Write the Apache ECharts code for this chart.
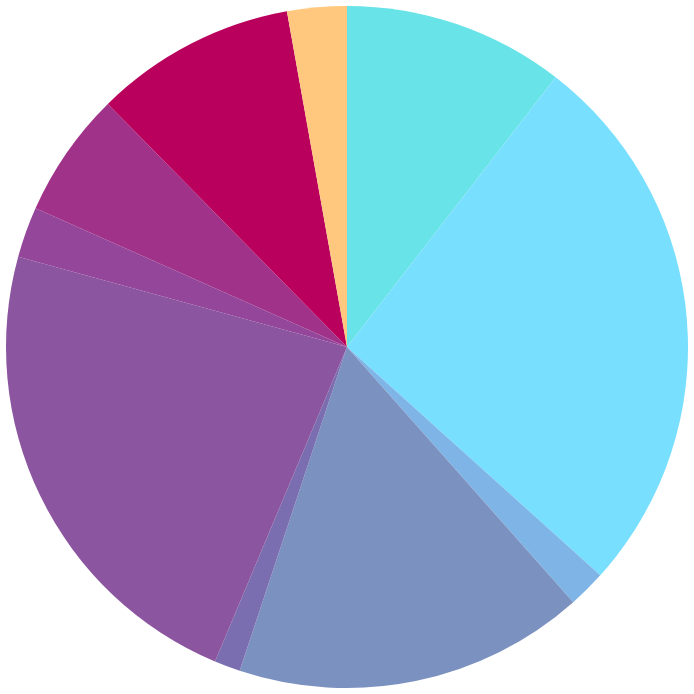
<!DOCTYPE html>
<html>
<head>
<meta charset="utf-8">
<script src="https://cdn.jsdelivr.net/npm/echarts@6/dist/echarts.min.js"></script>
<style>html,body{margin:0;padding:0;background:#fff}#c{width:694px;height:694px}</style>
</head>
<body>
<div id="c"></div>
<script>
const categories = ['A','B','C','D','E','F','G','H','I','J'];
const values = [10.48, 26.19, 1.78, 16.64, 1.23, 22.94, 2.40, 5.96, 9.55, 2.82];
const colors = ['#68E3E8','#78DFFF','#7FB5E6','#7B91C0','#7B6EB0','#8B559F','#93469A','#A03389','#BA005D','#FFC87E'];

const chart = echarts.init(document.getElementById('c'));
chart.setOption({
  animation: false,
  series: [{
    type: 'pie',
    center: [347, 347],
    radius: [0, 341],
    startAngle: 90,
    clockwise: true,
    label: { show: false },
    labelLine: { show: false },
    itemStyle: { borderWidth: 0 },
    emphasis: { disabled: true },
    data: categories.map((n, i) => ({ name: n, value: values[i], itemStyle: { color: colors[i] } }))
  }]
});
</script>
</body>
</html>
